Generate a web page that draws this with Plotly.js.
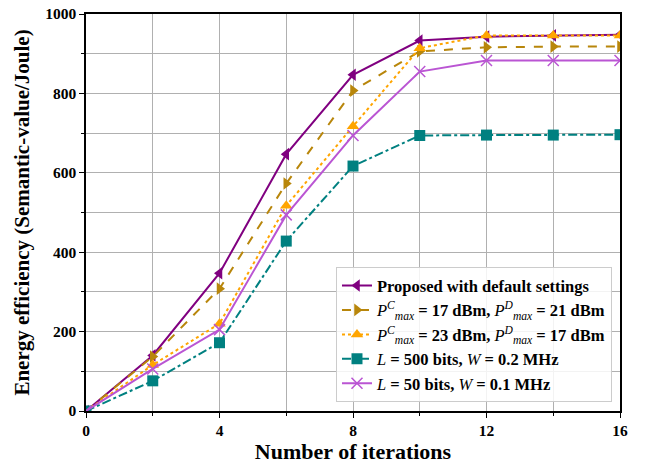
<!DOCTYPE html>
<html>
<head>
<meta charset="utf-8">
<script src="https://cdn.plot.ly/plotly-3.0.1.min.js"></script>
<style>html,body{margin:0;padding:0;background:#fff;}#chart{width:650px;height:464px;}</style>
</head>
<body>
<div id="chart"></div>
<script>
const iterations = [0, 2, 4, 6, 8, 10, 12, 14, 16];
const proposed = [0, 140, 347, 647, 847, 933, 943, 946, 948];
const pc17pd21 = [0, 137, 308, 573, 807, 906, 916, 918, 918];
const pc23pd17 = [0, 116, 220, 517, 717, 914, 946, 946, 946];
const l500w02 = [0, 76, 172, 428, 617, 694, 695, 695, 696];
const l50w01 = [0, 106, 205, 494, 694, 855, 883, 883, 883];

const names = [
  '<b>Proposed with default settings</b>',
  '<i>P</i><sup><i>C</i></sup><sub><i>max</i></sub><b> = 17 dBm, </b><i>P</i><sup><i>D</i></sup><sub><i>max</i></sub><b> = 21 dBm</b>',
  '<i>P</i><sup><i>C</i></sup><sub><i>max</i></sub><b> = 23 dBm, </b><i>P</i><sup><i>D</i></sup><sub><i>max</i></sub><b> = 17 dBm</b>',
  '<i>L</i><b> = 500 bits, </b><i>W</i><b> = 0.2 MHz</b>',
  '<i>L</i><b> = 50 bits, </b><i>W</i><b> = 0.1 MHz</b>'
];

const series = [proposed, pc17pd21, pc23pd17, l500w02, l50w01];
const colors = ['#800080', '#B8860B', '#FFA500', '#008080', '#BA55D3'];
const dashes = ['solid', 'dash', 'dot', 'dashdot', 'solid'];
const symbols = ['triangle-left', 'triangle-right', 'triangle-up', 'square', 'x-thin-open'];

const traces = series.map((s, i) => ({
  x: iterations,
  y: s,
  name: names[i],
  type: 'scatter',
  mode: 'lines+markers',
  line: {color: colors[i], dash: dashes[i], width: 2},
  marker: {symbol: symbols[i], size: 11, color: colors[i],
           line: {color: colors[i], width: i === 4 ? 1.5 : 0}}
}));

const axisCommon = {
  showline: true, mirror: true, linecolor: '#000', linewidth: 1.5,
  ticks: 'outside', ticklen: 5, tickcolor: '#000', tickwidth: 1.2,
  showgrid: true, gridcolor: '#b0b0b0', gridwidth: 1,
  zeroline: false,
  tickfont: {family: 'Liberation Serif', size: 15.5, color: '#000', weight: 'bold'}
};

const layout = {
  width: 650, height: 464,
  margin: {l: 86, r: 30, t: 14, b: 53},
  paper_bgcolor: '#fff', plot_bgcolor: '#fff',
  font: {family: 'Liberation Serif', color: '#000'},
  showlegend: true,
  xaxis: Object.assign({}, axisCommon, {
    range: [0, 16], tickvals: [0, 4, 8, 12, 16],
    minor: {tickvals: [2, 6, 10, 14], ticks: 'outside', ticklen: 3, tickcolor: '#000', showgrid: true, gridcolor: '#b0b0b0', gridwidth: 1},
    title: {text: '<b>Number of iterations</b>', font: {family: 'Liberation Serif', size: 22, color: '#000'}, standoff: 4}
  }),
  yaxis: Object.assign({}, axisCommon, {
    range: [0, 1000], tickvals: [0, 200, 400, 600, 800, 1000],
    minor: {tickvals: [100, 300, 500, 700, 900], ticks: 'outside', ticklen: 3, tickcolor: '#000', showgrid: true, gridcolor: '#b0b0b0', gridwidth: 1},
    title: {text: '<b>Energy efficiency (Semantic-value/Joule)</b>', font: {family: 'Liberation Serif', size: 21, color: '#000'}, standoff: 10}
  }),
  legend: {
    x: 0.985, y: 0.022, xanchor: 'right', yanchor: 'bottom',
    bgcolor: 'rgba(255,255,255,0.85)', bordercolor: '#cccccc', borderwidth: 1,
    font: {family: 'Liberation Serif', size: 16.5, color: '#000'},
    tracegroupgap: 0
  }
};

Plotly.newPlot('chart', traces, layout, {displayModeBar: false});
</script>
</body>
</html>
